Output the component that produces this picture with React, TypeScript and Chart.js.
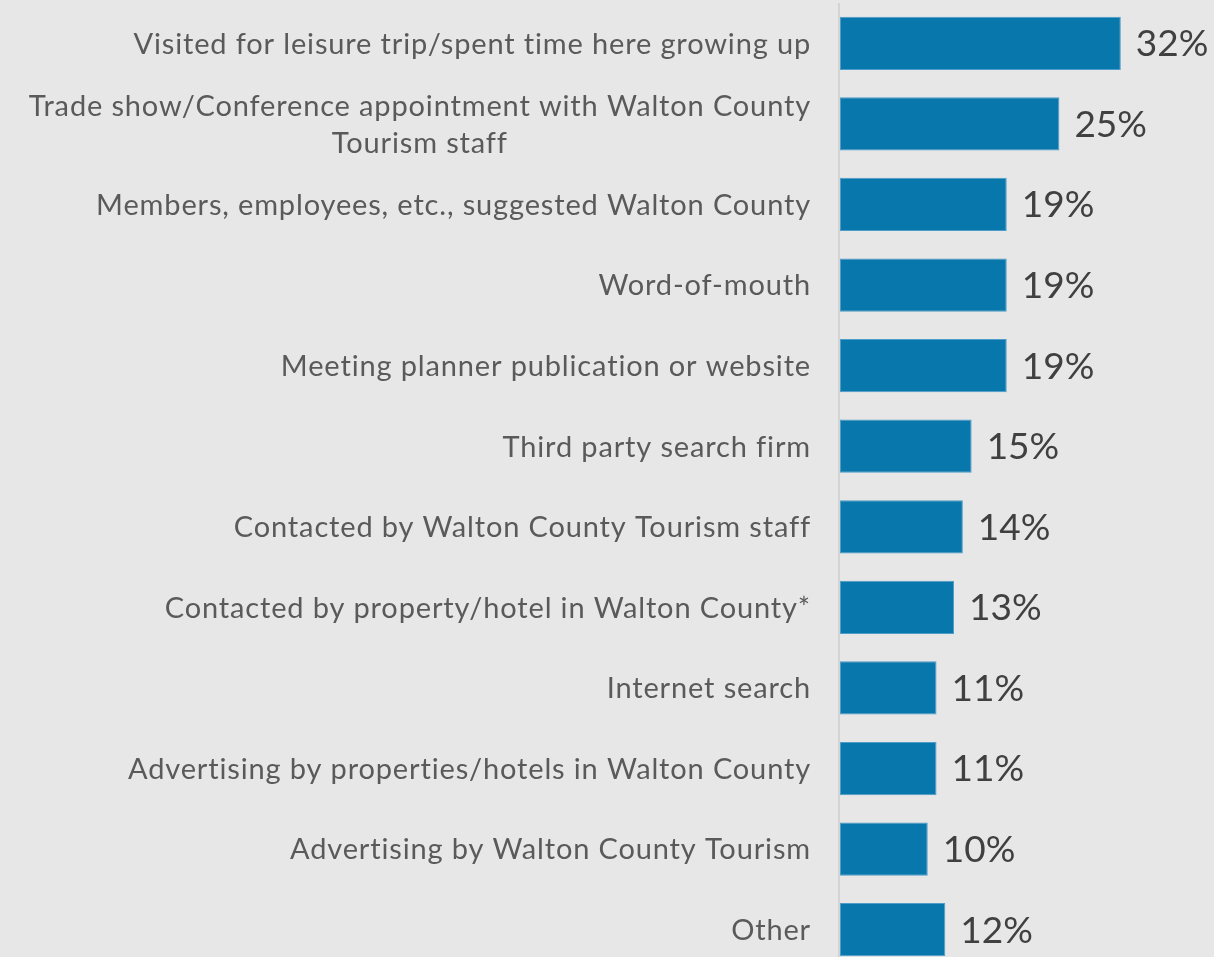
import React, { useEffect, useRef } from "react";
import { Chart, registerables } from "chart.js";

Chart.register(...registerables);

const categories: (string | string[])[] = [
  "Visited for leisure trip/spent time here growing up",
  ["Trade show/Conference appointment with Walton County", "Tourism staff"],
  "Members, employees, etc., suggested Walton County",
  "Word-of-mouth",
  "Meeting planner publication or website",
  "Third party search firm",
  "Contacted by Walton County Tourism staff",
  "Contacted by property/hotel in Walton County*",
  "Internet search",
  "Advertising by properties/hotels in Walton County",
  "Advertising by Walton County Tourism",
  "Other",
];

const values: number[] = [32, 25, 19, 19, 19, 15, 14, 13, 11, 11, 10, 12];

const BG = "#e7e7e7";
const BAR = "#0877ac";
const BAR_BORDER = "#4d9cc9";
const LABEL_COLOR = "#5a5a5a";
const VALUE_COLOR = "#404040";
const FONT = "Lato, 'Noto Sans', sans-serif";

const customPlugin = {
  id: "customLabels",
  afterDatasetsDraw(chart: any) {
    const { ctx, chartArea } = chart;
    const yScale = chart.scales.y;
    const meta = chart.getDatasetMeta(0);
    ctx.save();
    // axis line
    ctx.strokeStyle = "#d4d4d4";
    ctx.lineWidth = 2;
    ctx.beginPath();
    ctx.moveTo(chartArea.left - 1, chartArea.top);
    ctx.lineTo(chartArea.left - 1, chartArea.bottom);
    ctx.stroke();

    // category labels
    ctx.font = `29px ${FONT}`;
    (ctx as any).letterSpacing = "0.85px";
    ctx.fillStyle = LABEL_COLOR;
    ctx.textBaseline = "middle";
    ctx.textAlign = "center";
    const lineH = 37;
    const rightEdge = chartArea.left - 29;
    categories.forEach((cat, i) => {
      const lines = Array.isArray(cat) ? cat : [cat];
      const y = yScale.getPixelForValue(i) + 1;
      const maxW = Math.max(...lines.map((l) => ctx.measureText(l).width));
      const cx = rightEdge - maxW / 2;
      const startY = y - ((lines.length - 1) * lineH) / 2;
      lines.forEach((l, k) => {
        ctx.fillText(l, cx, startY + k * lineH);
      });
    });

    // value labels
    (ctx as any).letterSpacing = "0px";
    ctx.font = `37px ${FONT}`;
    ctx.fillStyle = VALUE_COLOR;
    ctx.textAlign = "left";
    meta.data.forEach((bar: any, i: number) => {
      ctx.fillText(`${values[i]}%`, bar.x + 15, bar.y + 1);
    });
    ctx.restore();
  },
};

export default function App() {
  const canvasRef = useRef<HTMLCanvasElement | null>(null);

  useEffect(() => {
    const canvas = canvasRef.current;
    if (!canvas) return;
    const chart = new Chart(canvas, {
      type: "bar",
      data: {
        labels: categories.map((c) => (Array.isArray(c) ? c.join(" ") : c)),
        datasets: [
          {
            data: values,
            backgroundColor: BAR,
            borderColor: BAR_BORDER,
            borderWidth: 1,
            borderSkipped: false,
            barPercentage: 0.66,
            categoryPercentage: 1,
          },
        ],
      },
      options: {
        indexAxis: "y",
        animation: false,
        responsive: false,
        maintainAspectRatio: false,
        layout: { padding: { left: 840, right: 23, top: 3, bottom: 0 } },
        plugins: {
          legend: { display: false },
          tooltip: { enabled: false },
          title: { display: false },
        },
        scales: {
          x: { display: false, min: 0, max: 40 },
          y: { display: false },
        },
      },
      plugins: [customPlugin],
    });
    return () => chart.destroy();
  }, []);

  return (
    <div
      style={{
        position: "fixed",
        left: 0,
        top: 0,
        width: 1214,
        height: 970,
        background: BG,
      }}
    >
      <canvas ref={canvasRef} width={1214} height={970} style={{ display: "block" }} />
    </div>
  );
}
